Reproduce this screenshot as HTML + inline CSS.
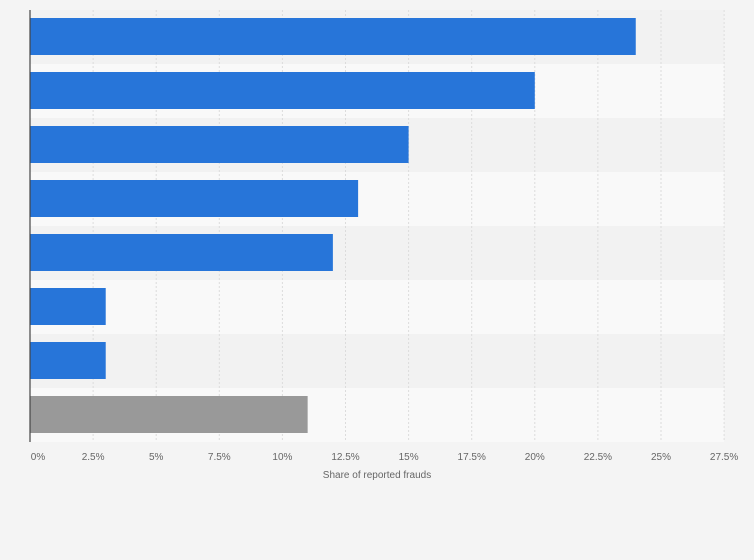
<!DOCTYPE html>
<html><head><meta charset="utf-8"><style>
body{margin:0;background:#f4f4f4;}
svg{display:block;font-family:"Liberation Sans",sans-serif;}
</style></head><body>
<svg id="c" width="754" height="560"></svg>
<script>
const categories=["Category 1","Category 2","Category 3","Category 4","Category 5","Category 6","Category 7","Other"];
const values=[24,20,15,13,12,3,3,11];
const colors=["#2775d9","#2775d9","#2775d9","#2775d9","#2775d9","#2775d9","#2775d9","#999999"];
const ticks=[0,2.5,5,7.5,10,12.5,15,17.5,20,22.5,25,27.5];
const tickLabels=["0%","2.5%","5%","7.5%","10%","12.5%","15%","17.5%","20%","22.5%","25%","27.5%"];
const NS="http://www.w3.org/2000/svg";
const svgEl=document.getElementById('c');
const x0=30,pxPer=25.24,plotTop=10,rowH=54,barH=37,barOff=8;
const xs=v=>x0+v*pxPer;
const plotR=xs(27.5);
function mk(t,a){const e=document.createElementNS(NS,t);for(const k in a)e.setAttribute(k,a[k]);svgEl.appendChild(e);return e;}
categories.forEach((c,i)=>{
  const r=mk('rect',{x:x0,y:plotTop+i*rowH,width:plotR-x0,height:rowH,fill:i%2?'#f9f9f9':'#f2f2f2'});
  
  
});
ticks.forEach((t,i)=>{
  if(i>0){const l=mk('line',{x1:xs(t),x2:xs(t),y1:plotTop,y2:plotTop+rowH*categories.length,stroke:'#dcdcdc','stroke-dasharray':'2,2'});
  
  }
  const tx=mk('text',{x:xs(t)+(i==0?8:0),y:460,'text-anchor':'middle','font-size':'10',fill:'#666'});
  tx.textContent=tickLabels[i];
  
  
});
values.forEach((v,i)=>{
  const b=mk('rect',{x:x0,y:plotTop+i*rowH+barOff,width:xs(v)-x0,height:barH,fill:colors[i]});
  
  
});
const ax=mk('line',{x1:x0,x2:x0,y1:plotTop,y2:plotTop+rowH*categories.length,stroke:'#444','stroke-width':1.2});


const tt=mk('text',{x:377,y:478,'text-anchor':'middle','font-size':'10',fill:'#666'});
tt.textContent='Share of reported frauds';


</script>
</body></html>
